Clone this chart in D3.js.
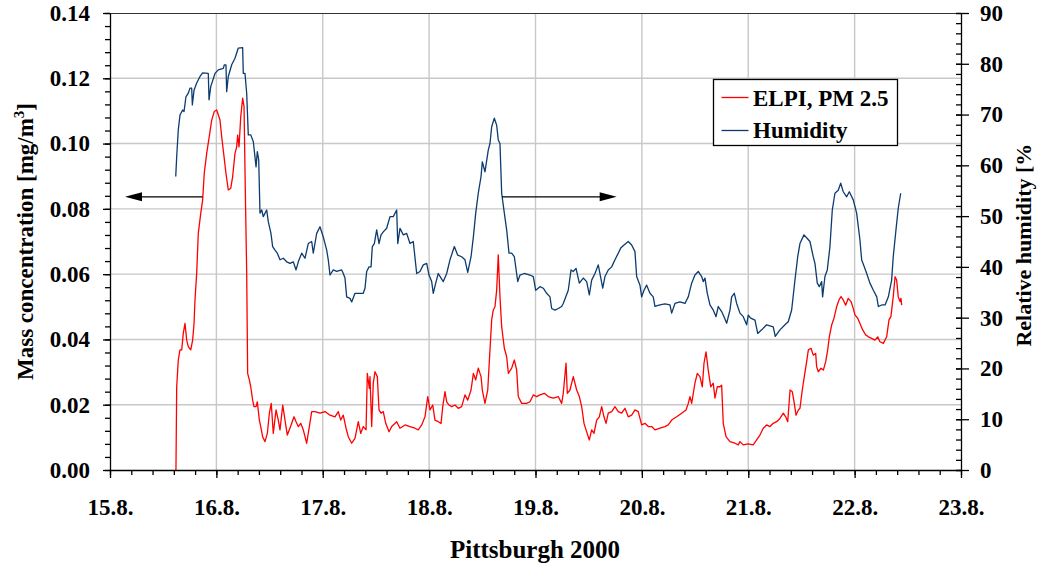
<!DOCTYPE html>
<html><head><meta charset="utf-8">
<script src="https://cdn.jsdelivr.net/npm/d3@7"></script>
<style>
body{margin:0;background:#fff}
svg{display:block}
text{font-family:"Liberation Serif","Times New Roman",serif;font-weight:bold;fill:#000}
</style>
</head><body>
<svg id="chart" width="1039" height="564"></svg>
<script>
// ---- axis ticks / labels ----
const dayTicks = [15,16,17,18,19,20,21,22,23];
const dayLabels = ["15.8.","16.8.","17.8.","18.8.","19.8.","20.8.","21.8.","22.8.","23.8."];
const massTicks = [0,0.02,0.04,0.06,0.08,0.10,0.12,0.14];
const humTicks = [0,10,20,30,40,50,60,70,80,90];
const seriesNames = ["ELPI, PM 2.5","Humidity"];

// ---- Humidity series (day of August, relative humidity %) ----
const humDays = [15.618,15.627,15.642,15.658,15.683,15.696,15.714,15.736,15.752,15.768,
15.774,15.790,15.815,15.846,15.871,15.924,15.931,15.947,15.987,16.018,
16.065,16.075,16.090,16.097,16.112,16.144,16.175,16.206,16.247,16.253,
16.269,16.285,16.300,16.323,16.347,16.373,16.385,16.398,16.410,16.426,
16.441,16.473,16.488,16.513,16.529,16.551,16.573,16.598,16.629,16.661,
16.692,16.723,16.749,16.770,16.802,16.833,16.864,16.896,16.911,16.943,
16.974,17.005,17.037,17.052,17.068,17.099,17.131,17.178,17.193,17.209,
17.225,17.256,17.272,17.303,17.350,17.381,17.397,17.413,17.435,17.454,
17.466,17.485,17.507,17.529,17.548,17.569,17.601,17.632,17.663,17.695,
17.705,17.726,17.757,17.789,17.820,17.851,17.883,17.914,17.945,17.977,
17.999,18.024,18.039,18.062,18.086,18.112,18.133,18.165,18.196,18.237,
18.269,18.306,18.337,18.363,18.394,18.416,18.438,18.462,18.488,18.500,
18.525,18.556,18.572,18.588,18.613,18.635,18.650,18.666,18.682,18.707,
18.729,18.751,18.776,18.801,18.833,18.854,18.895,18.948,18.979,19.002,
19.042,19.073,19.105,19.136,19.152,19.183,19.214,19.246,19.261,19.308,
19.334,19.355,19.381,19.412,19.449,19.481,19.506,19.528,19.559,19.590,
19.632,19.653,19.684,19.716,19.747,19.778,19.801,19.832,19.872,19.904,
19.935,19.951,19.982,19.998,20.020,20.045,20.076,20.107,20.123,20.170,
20.217,20.264,20.280,20.311,20.358,20.405,20.436,20.468,20.499,20.530,
20.562,20.577,20.593,20.615,20.640,20.671,20.697,20.718,20.750,20.772,
20.797,20.828,20.844,20.869,20.891,20.922,20.953,20.985,21.000,21.023,
21.063,21.089,21.126,21.173,21.235,21.254,21.298,21.345,21.376,21.408,
21.439,21.465,21.486,21.524,21.555,21.580,21.611,21.627,21.649,21.668,
21.690,21.699,21.721,21.743,21.768,21.790,21.815,21.846,21.869,21.893,
21.925,21.950,21.987,22.019,22.050,22.066,22.107,22.144,22.176,22.208,
22.223,22.255,22.286,22.317,22.348,22.363,22.395,22.410,22.433];
const humValues = [57.8,61.7,67.0,69.9,70.9,70.6,73.5,74.2,75.2,75.2,
71.9,74.8,76.2,77.5,78.2,78.1,72.9,75.5,78.1,78.8,
79.1,79.8,79.8,74.5,77.5,79.8,81.1,83.1,83.2,78.1,
78.1,74.2,66.0,66.0,64.7,59.7,62.7,61.1,50.6,51.2,
49.9,51.2,48.9,46.6,44.0,43.3,42.7,41.4,41.7,41.0,
40.7,41.0,39.4,41.0,42.7,41.7,44.6,45.0,42.7,46.6,
47.9,45.9,43.3,41.4,38.4,39.4,39.1,39.4,38.7,37.8,
34.1,33.8,33.1,34.8,34.8,34.8,35.8,39.1,40.0,40.0,
44.0,44.6,47.3,44.6,46.3,46.9,47.6,49.9,49.9,51.2,
44.6,47.6,46.3,46.6,44.6,45.0,38.7,39.1,40.4,40.7,
38.4,37.1,34.8,36.8,38.7,37.8,37.1,38.7,41.4,44.0,
42.3,42.0,41.4,38.9,42.0,45.9,50.6,54.5,57.8,60.7,
58.7,63.0,64.3,67.6,69.3,67.9,65.0,64.3,54.5,50.6,
47.3,42.7,42.7,42.0,37.1,38.4,38.7,38.4,38.1,35.4,
36.1,35.8,34.8,34.1,31.8,31.5,31.8,32.2,32.8,35.4,
39.4,39.1,39.7,36.8,37.8,37.1,34.5,37.4,38.7,40.4,
35.8,38.1,39.4,40.0,41.4,42.7,43.7,44.3,45.0,44.3,
43.0,38.1,36.4,34.1,35.4,36.4,34.8,34.1,32.2,32.5,
32.7,32.5,30.9,32.8,33.1,32.8,34.1,36.8,38.4,39.1,
38.1,37.1,37.8,34.8,32.5,31.5,30.2,32.2,31.2,30.2,
28.9,31.5,34.1,34.8,32.8,30.9,30.2,28.6,30.5,29.9,
29.5,26.9,27.6,28.6,28.2,26.3,27.6,28.6,29.2,31.5,
37.4,42.0,44.6,46.3,45.6,45.0,42.0,40.7,36.8,36.1,
37.1,34.1,38.1,39.4,44.0,51.2,54.5,55.1,56.5,54.8,
53.8,54.8,53.2,50.6,45.3,41.4,39.1,36.8,35.4,34.1,
32.2,32.5,32.5,34.1,37.4,42.0,48.6,51.5,54.5];

// ---- ELPI PM2.5 series (day of August, mg/m3) ----
const elpiDays = [15.620,15.627,15.642,15.658,15.674,15.689,15.705,15.721,15.736,15.759,
15.777,15.790,15.799,15.815,15.830,15.853,15.871,15.886,15.909,15.933,
15.956,15.980,16.003,16.034,16.050,16.072,16.090,16.112,16.135,16.153,
16.175,16.191,16.200,16.213,16.229,16.247,16.260,16.272,16.285,16.294,
16.310,16.323,16.341,16.354,16.373,16.385,16.404,16.417,16.435,16.457,
16.479,16.498,16.516,16.535,16.561,16.582,16.598,16.624,16.645,16.667,
16.686,16.708,16.730,16.749,16.770,16.793,16.817,16.849,16.874,16.896,
16.927,16.974,17.021,17.068,17.115,17.146,17.169,17.193,17.219,17.240,
17.272,17.303,17.334,17.357,17.381,17.407,17.419,17.438,17.444,17.460,
17.475,17.491,17.513,17.529,17.548,17.569,17.592,17.623,17.648,17.695,
17.726,17.773,17.820,17.867,17.898,17.930,17.961,17.987,18.008,18.034,
18.055,18.086,18.112,18.128,18.149,18.165,18.187,18.212,18.243,18.274,
18.306,18.337,18.363,18.394,18.416,18.438,18.462,18.488,18.500,18.525,
18.551,18.572,18.588,18.603,18.619,18.635,18.650,18.666,18.682,18.707,
18.729,18.745,18.776,18.801,18.823,18.838,18.870,18.917,18.948,18.979,
19.011,19.042,19.083,19.120,19.167,19.214,19.246,19.261,19.287,19.299,
19.324,19.355,19.387,19.412,19.434,19.456,19.475,19.506,19.528,19.550,
19.575,19.600,19.622,19.644,19.663,19.684,19.716,19.747,19.778,19.810,
19.841,19.872,19.904,19.935,19.966,19.998,20.029,20.060,20.092,20.123,
20.170,20.217,20.248,20.280,20.327,20.374,20.415,20.436,20.452,20.468,
20.499,20.521,20.546,20.568,20.584,20.603,20.624,20.647,20.671,20.687,
20.709,20.734,20.750,20.765,20.791,20.828,20.875,20.906,20.922,20.953,
21.000,21.047,21.079,21.110,21.141,21.173,21.204,21.235,21.267,21.298,
21.330,21.352,21.371,21.393,21.414,21.433,21.449,21.471,21.486,21.508,
21.527,21.549,21.565,21.590,21.611,21.634,21.643,21.659,21.684,21.706,
21.728,21.747,21.762,21.784,21.806,21.831,21.853,21.872,21.893,21.916,
21.940,21.966,21.987,22.003,22.029,22.050,22.076,22.104,22.129,22.160,
22.191,22.217,22.238,22.270,22.301,22.323,22.341,22.363,22.380,22.395,
22.410,22.427,22.436,22.442];
const elpiValues = [0,0.0255,0.0337,0.0368,0.0368,0.0419,0.0449,0.0398,0.0378,0.0368,
0.0398,0.0449,0.0521,0.0603,0.0725,0.0786,0.0827,0.0909,0.0970,0.1021,
0.1072,0.1098,0.1103,0.1072,0.1021,0.0960,0.0909,0.0858,0.0863,0.0899,
0.0970,0.0990,0.1026,0.0990,0.1082,0.1139,0.1113,0.0858,0.0603,0.0296,
0.0276,0.0255,0.0214,0.0194,0.0194,0.0209,0.0153,0.0133,0.0102,0.0087,
0.0112,0.0174,0.0204,0.0112,0.0184,0.0153,0.0123,0.0199,0.0153,0.0107,
0.0123,0.0143,0.0163,0.0148,0.0133,0.0143,0.0123,0.0082,0.0133,0.0179,
0.0179,0.0174,0.0179,0.0168,0.0163,0.0179,0.0153,0.0168,0.0128,0.0102,
0.0082,0.0097,0.0148,0.0112,0.0133,0.0123,0.0296,0.0250,0.0286,0.0133,
0.0266,0.0301,0.0286,0.0184,0.0174,0.0179,0.0143,0.0117,0.0133,0.0148,
0.0128,0.0138,0.0133,0.0128,0.0123,0.0138,0.0163,0.0225,0.0184,0.0199,
0.0153,0.0148,0.0143,0.0194,0.0240,0.0209,0.0199,0.0194,0.0199,0.0189,
0.0194,0.0230,0.0214,0.0245,0.0296,0.0276,0.0312,0.0286,0.0245,0.0204,
0.0245,0.0368,0.0460,0.0490,0.0500,0.0551,0.0659,0.0531,0.0439,0.0373,
0.0347,0.0296,0.0312,0.0337,0.0306,0.0225,0.0204,0.0204,0.0209,0.0230,
0.0225,0.0230,0.0235,0.0225,0.0220,0.0225,0.0204,0.0235,0.0327,0.0235,
0.0245,0.0286,0.0245,0.0225,0.0194,0.0143,0.0123,0.0092,0.0123,0.0112,
0.0153,0.0163,0.0194,0.0163,0.0143,0.0174,0.0179,0.0194,0.0179,0.0174,
0.0189,0.0163,0.0168,0.0184,0.0179,0.0138,0.0143,0.0133,0.0133,0.0123,
0.0128,0.0133,0.0138,0.0153,0.0163,0.0174,0.0184,0.0204,0.0225,0.0204,
0.0266,0.0296,0.0286,0.0255,0.0327,0.0362,0.0306,0.0255,0.0266,0.0220,
0.0255,0.0255,0.0260,0.0143,0.0102,0.0087,0.0082,0.0077,0.0087,0.0077,
0.0080,0.0077,0.0092,0.0107,0.0128,0.0138,0.0133,0.0143,0.0148,0.0158,
0.0174,0.0163,0.0148,0.0245,0.0240,0.0204,0.0168,0.0184,0.0189,0.0245,
0.0286,0.0332,0.0368,0.0373,0.0352,0.0357,0.0316,0.0301,0.0312,0.0306,
0.0332,0.0368,0.0408,0.0444,0.0465,0.0500,0.0521,0.0531,0.0521,0.0505,
0.0526,0.0516,0.0495,0.0475,0.0465,0.0449,0.0429,0.0414,0.0408,0.0403,
0.0398,0.0408,0.0393,0.0388,0.0408,0.0460,0.0470,0.0531,0.0592,0.0582,
0.0531,0.0516,0.0526,0.0505];

// ---- axis-pointer arrows: [fromDay, toDay, value] ----
const arrowMass = [15.871, 15.141, 0.0837];
const arrowHum = [18.685, 19.763, 53.8];

// ---- drawing ----
const RED = "#ff0000", BLUE = "#0b3b6f", GRID = "#c8c8c8";
const svg = d3.select("#chart");
const L = 110, R = 961, T = 13, B = 470;
const x = d3.scaleLinear().domain([15, 23]).range([L, R]);
const yL = d3.scaleLinear().domain([0, 0.14]).range([B, T]);
const yR = d3.scaleLinear().domain([0, 90]).range([B, T]);

svg.append("rect").attr("width", 1039).attr("height", 564).attr("fill", "#fff");

// grid
const grid = svg.append("g");
grid.selectAll("line.v").data(dayTicks.slice(1, -1)).join("line")
  .attr("x1", d => x(d)).attr("x2", d => x(d)).attr("y1", T).attr("y2", B)
  .attr("stroke", GRID).attr("stroke-width", 1.4);
grid.selectAll("line.h").data(massTicks.slice(1, -1)).join("line")
  .attr("x1", L).attr("x2", R).attr("y1", d => yL(d)).attr("y2", d => yL(d))
  .attr("stroke", GRID).attr("stroke-width", 1.4);
// top frame
svg.append("line").attr("x1", L).attr("x2", R).attr("y1", T + 0.5).attr("y2", T + 0.5)
  .attr("stroke", "#333").attr("stroke-width", 1.2);

// series
const lineH = d3.line().x((d, i) => x(humDays[i])).y(d => yR(d));
const lineE = d3.line().x((d, i) => x(elpiDays[i])).y(d => yL(d));
svg.append("path").attr("d", lineH(humValues)).attr("fill", "none")
  .attr("stroke", BLUE).attr("stroke-width", 1.3).attr("stroke-linejoin", "round");
svg.append("path").attr("d", lineE(elpiValues)).attr("fill", "none")
  .attr("stroke", RED).attr("stroke-width", 1.3).attr("stroke-linejoin", "round");

// arrows
function arrow(a, y) {
  const x0 = x(a[0]), x1 = x(a[1]), yy = y(a[2]);
  const dir = Math.sign(x1 - x0), head = 17, hw = 4.5;
  svg.append("line").attr("x1", x0).attr("x2", x1 - dir * head + dir * 2)
    .attr("y1", yy).attr("y2", yy).attr("stroke", "#000").attr("stroke-width", 1.3);
  svg.append("path")
    .attr("d", `M${x1},${yy}L${x1 - dir * head},${yy - hw}L${x1 - dir * head},${yy + hw}Z`)
    .attr("fill", "#000");
}
arrow(arrowMass, yL);
arrow(arrowHum, yR);

function styleAxis(g, size) {
  g.attr("font-family", null).attr("font-size", null);
  g.selectAll("path,line").attr("stroke", "#000").attr("stroke-width", 1.3);
  g.selectAll("text").style("font-size", size + "px");
}

// left axis
const minorMass = d3.range(0, 0.1401, 0.004);
const gLm = svg.append("g").attr("transform", `translate(${L},0)`)
  .call(d3.axisLeft(yL).tickValues(minorMass).tickSize(5).tickFormat(""));
gLm.select(".domain").remove(); styleAxis(gLm, 22);
const gL = svg.append("g").attr("transform", `translate(${L},0)`)
  .call(d3.axisLeft(yL).tickValues(massTicks).tickFormat(d3.format(".2f"))
    .tickSizeInner(7).tickSizeOuter(0).tickPadding(13));
styleAxis(gL, 23);

// bottom axis
const minorDay = d3.range(15, 23.001, 0.2);
const gBm = svg.append("g").attr("transform", `translate(0,${B})`)
  .call(d3.axisBottom(x).tickValues(minorDay).tickSize(5).tickFormat(""));
gBm.select(".domain").remove(); styleAxis(gBm, 22);
const gB = svg.append("g").attr("transform", `translate(0,${B})`)
  .call(d3.axisBottom(x).tickValues(dayTicks).tickFormat((d, i) => dayLabels[i])
    .tickSizeInner(8).tickSizeOuter(0));
styleAxis(gB, 23);
gB.selectAll("text").attr("y", 45).attr("dy", 0);

// right axis
const minorHum = d3.range(0, 90.01, 2);
const gRm = svg.append("g").attr("transform", `translate(${R},0)`)
  .call(d3.axisRight(yR).tickValues(minorHum).tickSize(-5).tickFormat(""));
gRm.select(".domain").remove(); styleAxis(gRm, 22);
const gR = svg.append("g").attr("transform", `translate(${R},0)`)
  .call(d3.axisRight(yR).tickValues(humTicks).tickSizeInner(8).tickSizeOuter(0).tickPadding(11));
styleAxis(gR, 23);
gR.selectAll(".tick").append("line").attr("x2", -5).attr("stroke", "#000").attr("stroke-width", 1.3);

// axis titles
svg.append("text").attr("x", 535).attr("y", 558).attr("text-anchor", "middle")
  .style("font-size", "25px").text("Pittsburgh 2000");

const tL = svg.append("text").attr("transform", "translate(33,241.5) rotate(-90)")
  .attr("text-anchor", "middle").style("font-size", "23px");
tL.append("tspan").text("Mass concentration [mg/m");
tL.append("tspan").attr("dy", -9).style("font-size", "15px").text("3");
tL.append("tspan").attr("dy", 9).text("]");

svg.append("clipPath").attr("id", "rclip").append("rect")
  .attr("x", 990).attr("y", 144).attr("width", 60).attr("height", 420);
svg.append("g").attr("clip-path", "url(#rclip)")
  .append("text").attr("transform", "translate(1031,241.5) rotate(-90)")
  .attr("text-anchor", "middle").style("font-size", "22px").text("Relative humidity [%]");

// legend
const lg = svg.append("g");
lg.append("rect").attr("x", 713.5).attr("y", 79.5).attr("width", 184).attr("height", 66)
  .attr("fill", "#fff").attr("stroke", "#000").attr("stroke-width", 1.3);
[RED, BLUE].forEach((c, i) => {
  const yy = i === 0 ? 97.5 : 130.5;
  lg.append("line").attr("x1", 721.5).attr("x2", 748.5).attr("y1", yy).attr("y2", yy)
    .attr("stroke", c).attr("stroke-width", 1.3);
  lg.append("text").attr("x", 753).attr("y", i === 0 ? 106 : 138)
    .style("font-size", "23px").text(seriesNames[i]);
});
</script>
</body></html>
